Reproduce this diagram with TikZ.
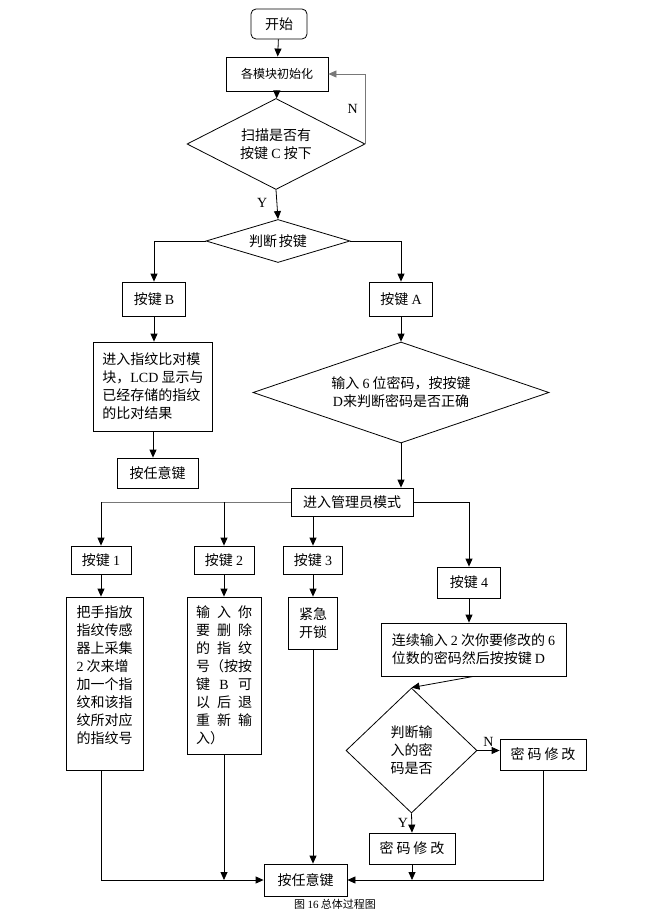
\documentclass[tikz,border=0pt]{standalone}
\usepackage{fontspec}
\setmainfont{Noto Sans CJK SC}
\newfontfamily\lat{Liberation Serif}
\usetikzlibrary{arrows.meta, positioning, shapes.geometric}
\definecolor{loopgray}{RGB}{120,120,120}
\newcommand{\spread}[1]{\makebox[56pt][s]{#1}}
\tikzset{box/.style={rectangle,draw,align=left,inner sep=0pt,font=\fontsize{14}{18}\selectfont},decision/.style={diamond,draw,align=center,inner sep=0pt,font=\fontsize{14}{18}\selectfont},line/.style={-{Triangle[length=8pt,width=7pt]}},yn/.style={font=\fontsize{14}{16}\lat}}

\begin{document}
\begin{tikzpicture}[x=1pt,y=-1pt,line width=0.8pt]
\useasboundingbox (0,0) rectangle (665,917);
\node[box, rounded corners=5pt, minimum width=56pt, minimum height=30pt] (start) at (279,24) {开始};
\node[box, minimum width=102pt, minimum height=34pt, font=\fontsize{12}{15}\selectfont] (init) at (277,74) {各模块初始化};
\node[decision, aspect=1.96, minimum width=178pt, minimum height=91pt] (scan) at (276,144) {扫描是否有\\按键 {\lat C} 按下};
\node[decision, aspect=3.35, minimum width=144pt, minimum height=43pt] (judge) at (278,241) {判断\hspace{2pt}按键};
\node[box, minimum width=63pt, minimum height=34pt] (keyB) at (154,299) {按键 {\lat B}};
\node[box, minimum width=63pt, minimum height=34pt] (keyA) at (401,299) {按键 {\lat A}};
\node[box, minimum width=119pt, minimum height=89pt] (cmp) at (153,386.5) {进入指纹比对模\\块，{\lat LCD} 显示与\\已经存储的指纹\\的比对结果};
\node[box, minimum width=81pt, minimum height=30pt] (anyB) at (157.5,473) {按任意键};
\node[decision, aspect=2.93, minimum width=296pt, minimum height=101pt] (pwd) at (401,392.5) {输入 {\lat 6} 位密码，按按键\\{\lat D}来判断密码是否正确};
\node[box, minimum width=122pt, minimum height=28pt] (admin) at (352,502) {进入管理员模式};
\node[box, minimum width=60pt, minimum height=28pt] (key1) at (101,560) {按键 {\lat 1}};
\node[box, minimum width=60pt, minimum height=28pt] (key2) at (224,560) {按键 {\lat 2}};
\node[box, minimum width=59pt, minimum height=28pt] (key3) at (313,560) {按键 {\lat 3}};
\node[box, minimum width=63pt, minimum height=31pt] (key4) at (469,582.5) {按键 {\lat 4}};
\node[box, minimum width=77pt, minimum height=173pt] (add) at (104.5,683.5) {把手指放\\指纹传感\\器上采集\\{\lat 2} 次来增\\加一个指\\纹和该指\\纹所对应\\的指纹号\\\mbox{}};
\node[box, minimum width=74pt, minimum height=157pt] (del) at (224,675.5) {\spread{输\hfill 入\hfill 你}\\\spread{要\hfill 删\hfill 除}\\\spread{的\hfill 指\hfill 纹}\\\spread{号（按按}\\\spread{键\hfill {\lat B}\hfill 可}\\\spread{以\hfill 后\hfill 退}\\\spread{重\hfill 新\hfill 输}\\入）};
\node[box, minimum width=49pt, minimum height=52pt] (lock) at (313,623) {紧急\\开锁};
\node[box, minimum width=185pt, minimum height=53pt] (chg) at (473.5,649.5) {连续输入 {\lat 2} 次你要修改的 {\lat 6}\\位数的密码然后按按键 {\lat D}};
\node[decision, aspect=1.05, minimum width=131pt, minimum height=125pt] (verify) at (411.5,750.5) {判断输\\入的密\\码是否};
\node[box, minimum width=86pt, minimum height=31pt] (okN) at (543,754.5) {密\hspace{3pt}码\hspace{3pt}修\hspace{3pt}改};
\node[box, minimum width=86pt, minimum height=31pt] (okY) at (412,848.5) {密\hspace{3pt}码\hspace{3pt}修\hspace{3pt}改};
\node[box, minimum width=83pt, minimum height=32pt] (anykey) at (305.5,880) {按任意键};
\node[font=\fontsize{11}{13}\selectfont] (caption) at (335,904) {图 {\lat 16} 总体过程图};
\draw[line] (start) -- (init);
\draw[line] (init) -- (scan);
\draw[line, loopgray] (scan.east) |- node[yn, pos=0.25, left=4pt, text=black]{N} (init.east);
\draw[line] (scan.south) -- node[yn, left=6pt, pos=0.45]{Y} (judge.north);
\draw[line] (judge.west) -| (keyB.north);
\draw[line] (judge.east) -| (keyA.north);
\draw[line] (keyB.south) -- (keyB.south |- cmp.north);
\draw[line] (cmp.south) -- (cmp.south |- anyB.north);
\draw[line] (keyA) -- (pwd);
\draw[line] (pwd.south) -- (pwd.south |- admin.north);
\draw[loopgray] (admin.west) -- (admin.west -| key1.north);
\draw[line] (admin.west -| key1.north) -- (key1.north);
\draw[line] (key2.north |- admin.west) -- (key2.north);
\draw[line] (key3.north |- admin.south) -- (key3.north);
\draw[line] (admin.east) -| (key4.north);
\draw[line] (key1.south) -- (key1.south |- add.north);
\draw[line] (key2) -- (del);
\draw[line] (key3) -- (lock);
\draw[line] (key4.south) -- (key4.south |- chg.north);
\draw[line] (key1.south |- add.south) |- (anykey.west);
\draw[line] (del.south) -- (del.south |- anykey.west);
\draw[line] (lock.south) -- (lock.south |- anykey.north);
\draw[line] (chg.south) -- (verify.north);
\draw[line] (verify.east) -- node[yn, above]{N} (verify.east -| okN.west);
\draw[line] (verify.south) -- node[yn, left]{Y} (okY.north);
\draw[line] (okY.south) -- (okY.south |- anykey.east);
\draw[line] (okN.south) |- (anykey.east);
\end{tikzpicture}
\end{document}
